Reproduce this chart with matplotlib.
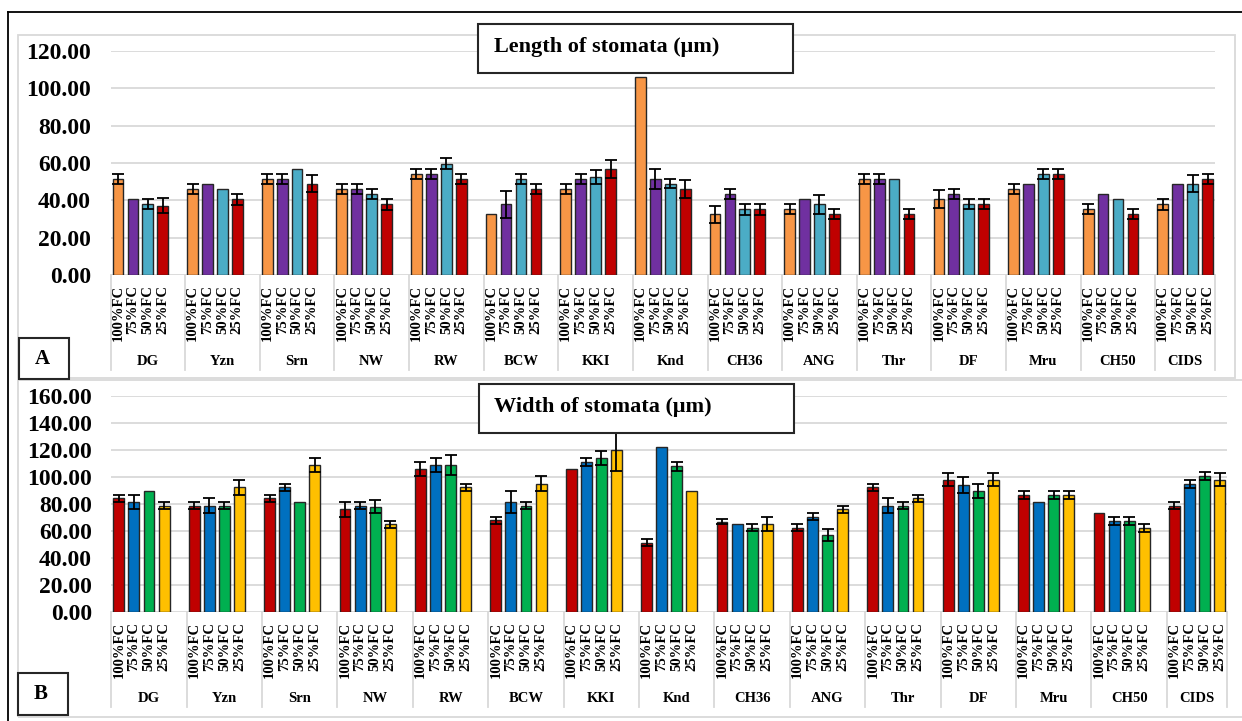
import numpy as np
import matplotlib.pyplot as plt
import matplotlib.transforms as mtransforms
from matplotlib.patches import Rectangle
from matplotlib.lines import Line2D
from matplotlib.ticker import FormatStrFormatter

################################################################################
# Données
################################################################################
genotypes = ['DG', 'Yzn', 'Srn', 'NW', 'RW', 'BCW', 'KKI', 'Knd', 'CH36', 'ANG',
             'Thr', 'DF', 'Mru', 'CH50', 'CIDS']
levels = ['100%FC', '75%FC', '50%FC', '25%FC']

# longueur des stomates (um)
len_100 = [51.4, 46.1, 51.4, 46.1, 54.3, 32.5, 46.1, 105.9, 32.5, 35.2, 51.4, 40.7, 46.1, 35.2, 37.9]
len_100_err = [2.9, 2.9, 2.9, 2.9, 2.7, 0, 2.9, 0, 4.6, 2.7, 2.9, 4.6, 2.9, 2.7, 2.9]
len_75 = [40.7, 48.9, 51.4, 46.1, 54.3, 37.9, 51.4, 51.4, 43.4, 40.7, 51.4, 43.4, 48.9, 43.4, 48.9]
len_75_err = [0, 0, 2.9, 2.9, 2.7, 7.3, 2.9, 5.5, 2.7, 0, 2.9, 2.7, 0, 0, 0]
len_50 = [37.9, 46.1, 56.8, 43.4, 59.6, 51.4, 52.3, 48.9, 35.2, 37.9, 51.4, 37.9, 54.3, 40.7, 48.9]
len_50_err = [2.8, 0, 0, 2.7, 2.9, 2.9, 3.8, 2.5, 2.8, 5.0, 0, 2.8, 2.7, 0, 4.6]
len_25 = [37.1, 40.5, 48.9, 37.9, 51.4, 46.1, 56.8, 46.1, 35.2, 32.5, 32.5, 37.9, 54.3, 32.5, 51.4]
len_25_err = [4.0, 3.0, 4.6, 2.9, 2.9, 2.9, 5.0, 4.6, 2.8, 2.7, 2.7, 2.8, 2.7, 2.7, 2.9]

# largeur des stomates (um)
wid_100 = [84.2, 78.8, 84.2, 76.0, 106.2, 67.9, 105.9, 51.4, 66.9, 62.5, 92.3, 98.0, 86.9, 73.3, 78.8]
wid_100_err = [2.7, 2.7, 2.7, 5.4, 5.2, 2.7, 0, 2.7, 2.0, 2.7, 2.7, 4.7, 3.0, 0, 2.7]
wid_75 = [81.5, 78.8, 92.3, 78.8, 108.9, 81.5, 111.4, 122.5, 65.2, 70.6, 78.8, 94.3, 81.5, 67.7, 95.0]
wid_75_err = [4.9, 5.7, 2.7, 2.7, 5.4, 8.4, 3.0, 0, 0, 2.7, 5.6, 5.9, 0, 2.9, 3.0]
wid_50 = [89.6, 78.8, 81.5, 78.0, 108.9, 78.8, 114.1, 107.9, 62.5, 57.0, 78.8, 89.6, 86.9, 67.7, 100.5]
wid_50_err = [0, 2.7, 0, 4.7, 7.4, 2.7, 5.2, 3.5, 2.5, 4.7, 2.7, 4.9, 3.0, 2.9, 3.0]
wid_25 = [78.8, 92.3, 108.9, 64.9, 92.3, 95.0, 119.8, 89.6, 65.2, 76.0, 84.2, 98.0, 86.9, 62.2, 98.0]
wid_25_err = [2.7, 5.7, 5.4, 2.7, 2.7, 5.4, 15.0, 0, 4.9, 2.7, 2.7, 4.7, 3.0, 3.0, 4.7]

colors_len = ['#F79646', '#7030A0', '#4BACC6', '#C00000']
colors_wid = ['#C00000', '#0070C0', '#00B050', '#FFC000']

plt.rcParams['font.family'] = 'Liberation Serif'
plt.rcParams['font.weight'] = 'bold'

W, H = 1242, 721
fig = plt.figure(figsize=(W / 100, H / 100), dpi=100)


# conversion pixels -> coordonnées figure
def fx(px):
    return px / W


def fy(py):
    return 1 - py / H


def panel(ax, series, errors, colors, ymax, sep_y, cat_y):
    n = len(genotypes)
    nslots = 5 * n - 1
    for k in range(4):
        x = np.arange(n) * 5 + k + 0.5
        y = np.array(series[k])
        e = np.array(errors[k])
        ax.bar(x, y, width=0.72, color=colors[k], edgecolor='#262626',
               linewidth=1.0, zorder=3)
        m = e > 0
        ax.errorbar(x[m], y[m], yerr=e[m], fmt='none', ecolor='black',
                    elinewidth=1.3, capsize=4, capthick=1.3, zorder=4)
    ticks = [5 * g + k + 0.5 for g in range(n) for k in range(4)]
    ax.set_xticks(ticks)
    ax.set_xticklabels(levels * n, rotation=90, fontsize=10.5)
    ax.set_xlim(0, nslots)
    ax.set_ylim(0, ymax)
    ax.set_yticks(np.arange(0, ymax + 1, 20))
    ax.yaxis.set_major_formatter(FormatStrFormatter('%.2f'))
    ax.tick_params(axis='x', length=0, pad=7)
    ax.tick_params(axis='y', length=0, pad=14, labelsize=17)
    for s in ax.spines.values():
        s.set_visible(False)
    ax.yaxis.grid(True, color='#D9D9D9', linewidth=1.3)
    ax.set_axisbelow(True)
    trans = mtransforms.blended_transform_factory(ax.transData, ax.transAxes)
    # séparateurs des groupes sous l'axe
    for s in list(range(0, nslots, 5)) + [nslots]:
        ax.plot([s, s], [0, sep_y], transform=trans, color='#D9D9D9',
                lw=1.3, clip_on=False)
    # noms des génotypes
    for g, name in enumerate(genotypes):
        c = (5 * g + min(5 * g + 5, nslots)) / 2
        ax.text(c, cat_y, name, transform=trans, ha='center', va='center',
                fontsize=10.5)


ax_top = fig.add_axes([fx(110.5), fy(275), fx(1215) - fx(110.5), fy(51) - fy(275)])
panel(ax_top, [len_100, len_75, len_50, len_25],
      [len_100_err, len_75_err, len_50_err, len_25_err],
      colors_len, 120, -95 / 224, -86 / 224)

ax_bot = fig.add_axes([fx(111.3), fy(612), fx(1227.2) - fx(111.3), fy(396) - fy(612)])
panel(ax_bot, [wid_100, wid_75, wid_50, wid_25],
      [wid_100_err, wid_75_err, wid_50_err, wid_25_err],
      colors_wid, 160, -95 / 216, -86 / 216)


def box(x0, y0, x1, y1, ec, lw, z, fc='none'):
    fig.add_artist(Rectangle((fx(x0), fy(y1)), fx(x1) - fx(x0), fy(y0) - fy(y1),
                             transform=fig.transFigure, facecolor=fc,
                             edgecolor=ec, linewidth=lw, zorder=z))


# cadres gris des zones de graphique
box(18, 35, 1235, 378, '#D9D9D9', 1.3, 0.5)
box(18, 380, 1250, 717, '#D9D9D9', 1.3, 0.5)

# cadre noir extérieur
fig.add_artist(Line2D([fx(8), fx(8)], [fy(12), 0], color='black', lw=1.3,
                      transform=fig.transFigure))
fig.add_artist(Line2D([fx(8), 1], [fy(12), fy(12)], color='black', lw=1.3,
                      transform=fig.transFigure))

# titres
box(478, 24, 793, 73, '#262626', 1.5, 5, 'white')
fig.text(fx(494), fy(47), 'Length of stomata (μm)', fontsize=16, ha='left',
         va='center', zorder=6)
box(479, 384, 794, 433, '#262626', 1.5, 5, 'white')
fig.text(fx(494), fy(407), 'Width of stomata (μm)', fontsize=16, ha='left',
         va='center', zorder=6)

# étiquettes A et B
box(19, 338, 69, 379, '#262626', 1.5, 5, 'white')
fig.text(fx(42), fy(359), 'A', fontsize=15, ha='center', va='center', zorder=6)
box(18, 673, 68, 715, '#262626', 1.5, 5, 'white')
fig.text(fx(41), fy(694), 'B', fontsize=15, ha='center', va='center', zorder=6)

fig.savefig('out.png', dpi=100)
